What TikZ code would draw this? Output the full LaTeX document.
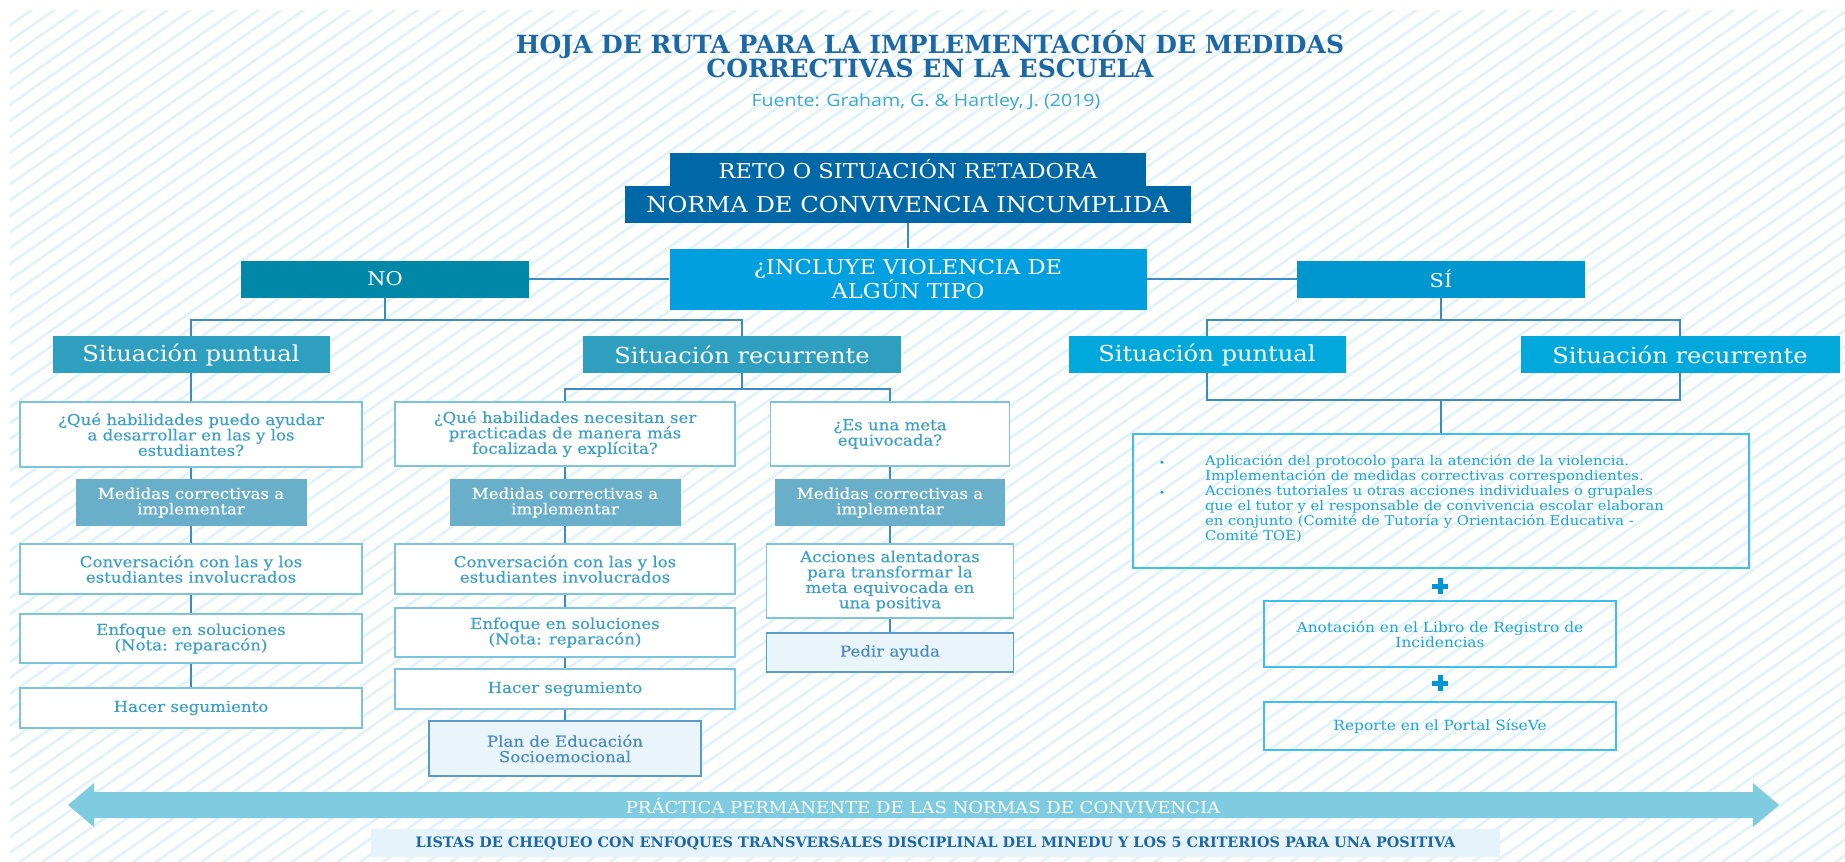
\documentclass[tikz,border=0pt]{standalone}
\usepackage{fontspec}
\setmainfont[FakeStretch=1.1]{DejaVu Serif}
\newfontfamily\boxf[FakeStretch=1.1,FakeBold=0.3]{DejaVu Serif}
\newfontfamily\titlef{DejaVu Serif}
\newfontfamily\fuentef[FakeStretch=1.15]{Open Sans}
\definecolor{titlec}{RGB}{28,104,166}
\definecolor{fuentec}{RGB}{58,168,208}
\definecolor{retoc}{RGB}{0,104,166}
\definecolor{inclc}{RGB}{0,160,224}
\definecolor{noc}{RGB}{0,136,168}
\definecolor{sic}{RGB}{0,150,207}
\definecolor{sitL}{RGB}{46,159,191}
\definecolor{sitR}{RGB}{0,168,219}
\definecolor{medc}{RGB}{106,175,201}
\definecolor{wborder}{RGB}{124,196,222}
\definecolor{wtext}{RGB}{58,160,200}
\definecolor{lfill}{RGB}{234,245,251}
\definecolor{lborder}{RGB}{91,155,200}
\definecolor{ltext}{RGB}{74,139,191}
\definecolor{rborder}{RGB}{60,192,234}
\definecolor{rtext}{RGB}{27,163,216}
\definecolor{connc}{RGB}{61,139,192}
\definecolor{plusc}{RGB}{0,150,214}
\definecolor{arrowc}{RGB}{127,204,224}
\definecolor{botfill}{RGB}{230,243,250}
\definecolor{hatchc}{RGB}{226,242,249}
\tikzset{
  conn/.style={draw=connc, line width=2pt},
  hatchline/.style={draw=hatchc, line width=2.6pt},
  plusmark/.style={draw=plusc, line width=5pt},
  base/.style={inner sep=0pt, align=center},
  wbox/.style={base, draw=wborder, line width=1.6pt, fill=white, text=wtext, font=\boxf\fontsize{15.1}{15.4}\selectfont},
  mbox/.style={base, fill=medc, text=white, font=\boxf\fontsize{15.1}{15.4}\selectfont},
  lbox/.style={base, draw=lborder, line width=1.6pt, fill=lfill, text=ltext, font=\boxf\fontsize{15.1}{15.4}\selectfont},
  rbox/.style={base, draw=rborder, line width=1.6pt, text=rtext, font=\fontsize{14}{15}\selectfont},
  hdrL/.style={base, fill=sitL, text=white, minimum width=#1, minimum height=37pt, font=\fontsize{22}{23}\selectfont},
  hdrR/.style={base, fill=sitR, text=white, minimum width=#1, minimum height=37pt, font=\fontsize{22}{23}\selectfont},
}
\begin{document}
\begin{tikzpicture}[x=1pt,y=-1pt]
\useasboundingbox (0,0) rectangle (1845,862);
\fill[white] (0,0) rectangle (1845,862);
\begin{scope}
\clip (10,10) rectangle (1845,862);
\foreach \i in {0,...,140} {
  \draw[hatchline] ({-1300+\i*22.7},880) -- ++(1640,-1150);
}
\end{scope}

% title
\node[base, text=titlec, font=\titlef\bfseries\fontsize{25}{22}\selectfont] (title) at (930,54) {HOJA DE RUTA PARA LA IMPLEMENTACIÓN DE MEDIDAS\\CORRECTIVAS EN LA ESCUELA};
\node[base, text=fuentec, font=\fuentef\fontsize{17}{18}\selectfont] (fuente) at (926,102) {Fuente: Graham, G. \& Hartley, J. (2019)};

% top
\node[base, fill=retoc, text=white, minimum width=476pt, minimum height=33pt, font=\fontsize{20.5}{21}\selectfont] (reto) at (908,169.5) {RETO O SITUACIÓN RETADORA};
\node[base, fill=retoc, text=white, minimum width=566pt, minimum height=37pt, font=\fontsize{22}{22}\selectfont] (norma) at (908,204.5) {NORMA DE CONVIVENCIA INCUMPLIDA};
\node[base, fill=inclc, text=white, minimum width=477pt, minimum height=61pt, font=\fontsize{20.5}{21}\selectfont] (incl) at (908,279) {¿INCLUYE VIOLENCIA DE\\ALGÚN TIPO};
\node[base, fill=noc, text=white, minimum width=288pt, minimum height=37pt, font=\fontsize{19}{20}\selectfont] (no) at (385,279) {NO};
\node[base, fill=sic, text=white, minimum width=288pt, minimum height=37pt, font=\fontsize{19}{20}\selectfont] (si) at (1441,279) {SÍ};

% headers
\node[hdrL=277pt] (spL) at (191,354.5) {Situación puntual};
\node[hdrL=318pt] (srL) at (742,354.5) {Situación recurrente};
\node[hdrR=277pt] (spR) at (1207,354.5) {Situación puntual};
\node[hdrR=319pt] (srR) at (1680,354.5) {Situación recurrente};

% left column
\node[wbox, minimum width=342pt, minimum height=65pt] (q1) at (191,434.5) {¿Qué habilidades puedo ayudar\\a desarrollar en las y los\\estudiantes?};
\node[mbox, minimum width=231pt, minimum height=47pt] (m1) at (191,502.5) {Medidas correctivas a\\implementar};
\node[wbox, minimum width=342pt, minimum height=50pt] (c1) at (191,569) {Conversación con las y los\\estudiantes involucrados};
\node[wbox, minimum width=342pt, minimum height=49pt] (e1) at (191,638.5) {Enfoque en soluciones\\(Nota: reparacón)};
\node[wbox, minimum width=342pt, minimum height=40pt] (h1) at (191,708) {Hacer segumiento};

% middle column
\node[wbox, minimum width=340pt, minimum height=64pt] (q2) at (565,434) {¿Qué habilidades necesitan ser\\practicadas de manera más\\focalizada y explícita?};
\node[mbox, minimum width=231pt, minimum height=47pt] (m2) at (565,502.5) {Medidas correctivas a\\implementar};
\node[wbox, minimum width=340pt, minimum height=50pt] (c2) at (565,569) {Conversación con las y los\\estudiantes involucrados};
\node[wbox, minimum width=340pt, minimum height=49pt] (e2) at (565,632.5) {Enfoque en soluciones\\(Nota: reparacón)};
\node[wbox, minimum width=340pt, minimum height=40pt] (h2) at (565,689) {Hacer segumiento};
\node[lbox, minimum width=272pt, minimum height=55pt] (plan) at (565,748.5) {Plan de Educación\\Socioemocional};

% third column
\node[wbox, minimum width=239pt, minimum height=64pt] (q3) at (890,434) {¿Es una meta\\equivocada?};
\node[mbox, minimum width=230pt, minimum height=47pt] (m3) at (890,502.5) {Medidas correctivas a\\implementar};
\node[wbox, minimum width=247pt, minimum height=74pt] (acc) at (890,581) {Acciones alentadoras\\para transformar la\\meta equivocada en\\una positiva};
\node[lbox, minimum width=247pt, minimum height=39pt] (pedir) at (890,652.5) {Pedir ayuda};

% right side
\node[rbox, minimum width=616pt, minimum height=134pt] (big) at (1441,501) {};
\node[base, text=rtext, anchor=north west, align=left, font=\fontsize{13.4}{15}\selectfont] (bigt) at (1205,455) {Aplicación del protocolo para la atención de la violencia.\\Implementación de medidas correctivas correspondientes.\\Acciones tutoriales u otras acciones individuales o grupales\\que el tutor y el responsable de convivencia escolar elaboran\\en conjunto (Comité de Tutoría y Orientación Educativa -\\Comité TOE)};
\node[base, text=rtext, font=\fontsize{10}{12}\selectfont] (b1) at (1162,464) {•};
\node[base, text=rtext, font=\fontsize{10}{12}\selectfont] (b2) at (1162,494) {•};
\node[rbox, minimum width=352pt, minimum height=66pt] (anot) at (1440,634) {Anotación en el Libro de Registro de\\Incidencias};
\node[rbox, minimum width=352pt, minimum height=48pt] (rep) at (1440,726) {Reporte en el Portal SíseVe};
\coordinate (plus1) at (1440,586);
\coordinate (plus2) at (1440,683);
\foreach \p in {plus1,plus2} {
  \draw[plusmark] ([xshift=-8pt]\p) -- ([xshift=8pt]\p);
  \draw[plusmark] ([yshift=-8pt]\p) -- ([yshift=8pt]\p);
}

% connectors
\coordinate (nbar) at (385,320);
\coordinate (sbar) at (1441,320);
\coordinate (rbar) at (742,389);
\coordinate (bbar) at (1441,400);
\draw[conn] (norma.south) -- (incl.north);
\draw[conn] (no.east) -- (incl.west);
\draw[conn] (incl.east) -- (si.west);
\draw[conn] (no.south) -- (nbar);
\draw[conn] (spL.north) |- (nbar) -| (srL.north);
\draw[conn] (si.south) -- (sbar);
\draw[conn] (spR.north) |- (sbar) -| (srR.north);
\draw[conn] (spR.south) |- (bbar) -| (srR.south);
\draw[conn] (bbar) -- (big.north);
\draw[conn] (srL.south) -- (rbar);
\draw[conn] (q2.north) |- (rbar) -| (q3.north);
\draw[conn] (spL.south) -- (q1.north);
\draw[conn] (q1.south) -- (m1.north);
\draw[conn] (m1.south) -- (c1.north);
\draw[conn] (c1.south) -- (e1.north);
\draw[conn] (e1.south) -- (h1.north);
\draw[conn] (q2.south) -- (m2.north);
\draw[conn] (m2.south) -- (c2.north);
\draw[conn] (c2.south) -- (e2.north);
\draw[conn] (e2.south) -- (h2.north);
\draw[conn] (h2.south) -- (plan.north);
\draw[conn] (q3.south) -- (m3.north);
\draw[conn] (m3.south) -- (acc.north);
\draw[conn] (acc.south) -- (pedir.north);

% bottom arrow
\fill[arrowc] (68,805) -- (94,783) -- (94,792) -- (1753,792) -- (1753,783) -- (1779,805) -- (1753,827) -- (1753,818) -- (94,818) -- (94,827) -- cycle;
\node[base, text=white, font=\fontsize{16.4}{18}\selectfont] (practica) at (923,806) {PRÁCTICA PERMANENTE DE LAS NORMAS DE CONVIVENCIA};
\node[base, fill=botfill, minimum width=1129pt, minimum height=28pt, text=titlec, font=\titlef\bfseries\fontsize{14.4}{16}\selectfont] (listas) at (935.5,843) {LISTAS DE CHEQUEO CON ENFOQUES TRANSVERSALES DISCIPLINAL DEL MINEDU Y LOS 5 CRITERIOS PARA UNA POSITIVA};
\end{tikzpicture}
\end{document}
